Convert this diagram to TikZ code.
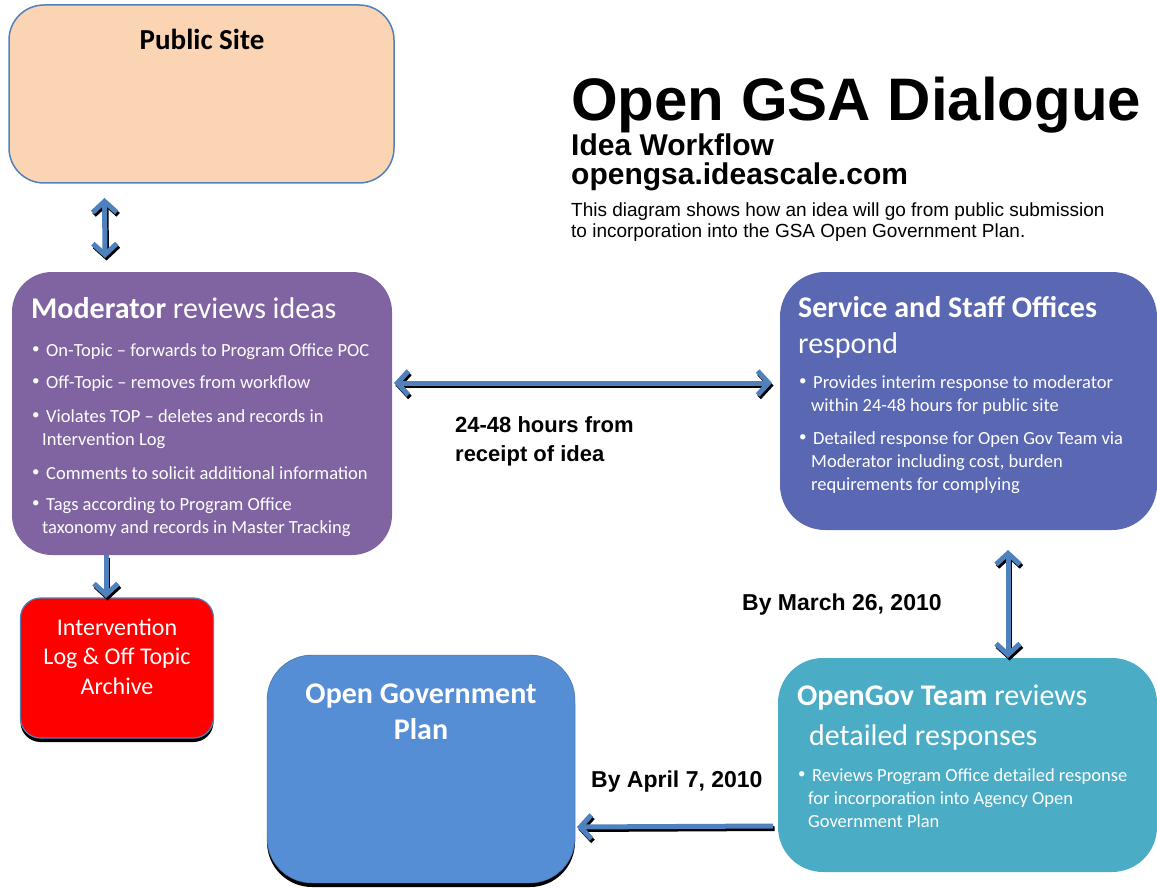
\documentclass[tikz,border=0pt]{standalone}
\usepackage{fontspec}
\setmainfont{Carlito}
\newfontfamily\arialfont{Liberation Sans}
\usetikzlibrary{arrows.meta,shadows,positioning}

\definecolor{peach}{HTML}{FBD4B4}
\definecolor{lineblue}{HTML}{4F81BD}
\definecolor{modpurple}{HTML}{8064A2}
\definecolor{srvblue}{HTML}{5A67B3}
\definecolor{ogpblue}{HTML}{558ED5}
\definecolor{ogteal}{HTML}{4BACC6}

\newcommand{\fs}[2]{\fontsize{#1}{#2}\selectfont}
\newcommand{\bul}{\makebox[15pt][l]{\hspace{1pt}\raisebox{0.3ex}{\fs{15}{15}\textbullet}}}
\newcommand{\nsp}{\spaceskip=0pt\xspaceskip=0pt}
\newcommand{\csp}{\spaceskip=\fontdimen2\font\xspaceskip=\fontdimen2\font}

\begin{document}
\begin{tikzpicture}[x=1pt,y=-1pt,
  box/.style={rounded corners=#1, inner sep=0pt, outer sep=0pt},
  shadowed/.style={drop shadow={shadow xshift=0pt, shadow yshift=-4pt, opacity=1, fill=black}},
  btext/.style={anchor=base west, align=left, inner sep=0pt, text=white},
  lbl/.style={anchor=base west, align=left, inner sep=0pt, font=\arialfont\bfseries},
  >={Straight Barb[length=11pt,width=24pt]},
  flow/.style={line width=5pt, draw=lineblue},
  flowshadow/.style={line width=5pt, draw=black, transform canvas={shift={(1.5,2.5)}}}]
\useasboundingbox (0,0) rectangle (1157,888);

% boxes
\node[box=35pt, fill=peach, draw=lineblue, line width=1.5pt,
  minimum width=385pt, minimum height=178pt] (pub) at (201.5,94) {};
\node[box=40pt, fill=modpurple, minimum width=380pt, minimum height=283pt] (mod) at (202,413.5) {};
\node[box=20pt, shadowed, fill=red, draw=lineblue, line width=1.2pt,
  minimum width=193pt, minimum height=140pt] (int) at (117,668) {};
\node[box=45pt, shadowed, fill=ogpblue, draw=lineblue!80!black,
  minimum width=308pt, minimum height=228pt] (ogp) at (421,769) {};
\node[box=45pt, fill=srvblue, minimum width=377pt, minimum height=258pt] (srv) at (968.5,401) {};
\node[box=45pt, fill=ogteal, minimum width=379pt, minimum height=214pt] (ogt) at (967.5,765) {};

% box texts
\node[anchor=base, inner sep=0pt] (pubtxt) at (202,50) {\fs{29}{29}\bfseries Public Site};

\node[btext, text width=370pt] (modtxt) at (31,318) {\nsp\fs{18.5}{23}{\fs{30}{36}\textbf{Moderator} reviews ideas}\\[15pt]
  \bul On-Topic – forwards to Program Office POC\\[9pt]
  \bul Off-Topic – removes from workflow\\[11pt]
  \bul Violates TOP – deletes and records in\\
  \hspace*{11pt}Intervention Log\\[11pt]
  \bul Comments to solicit additional information\\[8pt]
  \bul Tags according to Program Office\\
  \hspace*{11pt}taxonomy and records in Master Tracking\par};

\node[anchor=base, align=center, text width=190pt, inner sep=0pt, text=white] (inttxt) at (117,635)
  {\fs{24}{29.5}\csp Intervention\\Log \& Off Topic\\Archive\par};

\node[anchor=base, align=center, text width=300pt, inner sep=0pt, text=white] (ogptxt) at (421,703)
  {\fs{30}{36}\bfseries\csp Open Government\\Plan\par};

\node[btext, text width=355pt] (srvtxt) at (798,317) {\nsp\fs{18.5}{23}{\fs{30}{36}\textbf{Service and Staff Offices}}\\[13pt]
  {\fs{30}{36}respond}\\[12pt]
  \bul Provides interim response to moderator\\
  \hspace*{13pt}within 24-48 hours for public site\\[10pt]
  \bul Detailed response for Open Gov Team via\\
  \hspace*{13pt}Moderator including cost, burden\\
  \hspace*{13pt}requirements for complying\par};

\node[btext, text width=355pt] (ogttxt) at (797,705) {\nsp\fs{18.5}{23}{\fs{30}{36}\textbf{OpenGov Team} reviews}\\[14pt]
  {\fs{30}{36}\hspace*{12pt}detailed responses}\\[13pt]
  \bul Reviews Program Office detailed response\\
  \hspace*{11pt}for incorporation into Agency Open\\
  \hspace*{11pt}Government Plan\par};

% heading
\node[anchor=base west, inner sep=0pt] (title) at (571,121) {\arialfont\bfseries\fs{60}{60}Open GSA Dialogue};
\node[anchor=base west, inner sep=0pt] (subtitle) at (571,156) {\arialfont\bfseries\fs{30}{30}Idea Workflow};
\node[anchor=base west, inner sep=0pt] (site) at (571,185) {\arialfont\bfseries\fs{30}{30}opengsa.ideascale.com};
\node[anchor=base west, align=left, text width=580pt, inner sep=0pt] (desc) at (571,216)
  {\nsp\arialfont\fs{19}{21}This diagram shows how an idea will go from public submission\\
  to incorporation into the GSA Open Government Plan.\par};

% arrows
\draw[flowshadow, <->] ([xshift=-97pt, yshift=-15pt]pub.south) -- ([xshift=-97pt, yshift=14pt]mod.north);
\draw[flow, <->] ([xshift=-97pt, yshift=-15pt]pub.south) -- ([xshift=-97pt, yshift=14pt]mod.north);
\draw[flowshadow, ->] ([xshift=-96pt]mod.south) -- ([xshift=-11pt]int.north);
\draw[flow, ->] ([xshift=-96pt]mod.south) -- ([xshift=-11pt]int.north);
\draw[flowshadow, <->] ([xshift=2pt, yshift=30.5pt]mod.east) -- ([xshift=-8pt, yshift=18pt]srv.west);
\draw[flow, <->] ([xshift=2pt, yshift=30.5pt]mod.east) -- ([xshift=-8pt, yshift=18pt]srv.west);
\draw[flowshadow, <->] ([xshift=39.5pt, yshift=-20pt]srv.south) -- ([xshift=40.5pt]ogt.north);
\draw[flow, <->] ([xshift=39.5pt, yshift=-20pt]srv.south) -- ([xshift=40.5pt]ogt.north);
\draw[flowshadow, ->] ([xshift=-5pt, yshift=-61pt]ogt.west) -- ([xshift=2pt, yshift=-58pt]ogp.east);
\draw[flow, ->] ([xshift=-5pt, yshift=-61pt]ogt.west) -- ([xshift=2pt, yshift=-58pt]ogp.east);

% arrow labels
\node[lbl, text width=250pt] (hrs) at (455,432) {\nsp\fs{22}{29}24-48 hours from\\receipt of idea\par};
\node[lbl] (march) at (742,610) {\fs{23}{23}By March 26, 2010};
\node[lbl] (april) at (591,787) {\fs{23}{23}By April 7, 2010};
\end{tikzpicture}
\end{document}
